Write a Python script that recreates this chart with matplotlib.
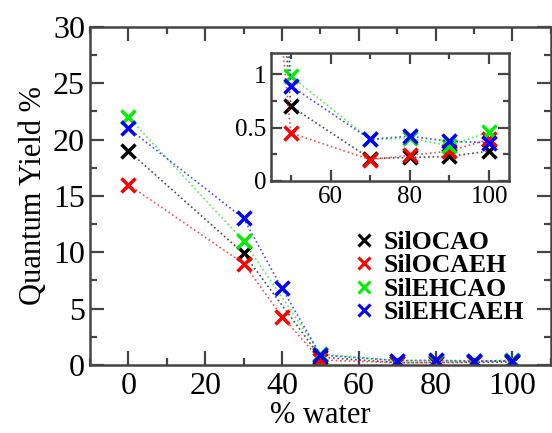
import matplotlib
matplotlib.use("Agg")
import matplotlib.pyplot as plt
import numpy as np
from matplotlib.ticker import MultipleLocator

plt.rcParams["font.family"] = ["Liberation Serif", "DejaVu Serif"]

# ── data ────────────────────────────────────────────────────────────────
water_full = [0, 30, 40, 50, 70, 80, 90, 100]
water_part = [0, 30, 50, 70, 80, 90, 100]   # no 40 % point

sil_ocao   = [19.0, 9.9, 0.70, 0.21, 0.22, 0.23, 0.28]
sil_ocaeh  = [16.0, 9.0, 4.3, 0.45, 0.20, 0.24, 0.28, 0.39]
sil_ehcao  = [22.0, 11.0, 0.98, 0.39, 0.40, 0.33, 0.46]
sil_ehcaeh = [21.0, 13.0, 6.8, 0.89, 0.39, 0.42, 0.37, 0.36]

series = [
    ("SilOCAO",   water_part, sil_ocao,   "black"),
    ("SilOCAEH",  water_full, sil_ocaeh,  "red"),
    ("SilEHCAO",  water_part, sil_ehcao,  "#00ee00"),
    ("SilEHCAEH", water_full, sil_ehcaeh, "blue"),
]

SPINE = "#444444"

def style_axes(ax, fs):
    for s in ax.spines.values():
        s.set_color(SPINE)
        s.set_linewidth(1.8)
    ax.tick_params(which="both", direction="in", top=True, right=True,
                   colors=SPINE, labelcolor="black", labelsize=fs, width=1.6)
    ax.tick_params(which="major", length=10)
    ax.tick_params(which="minor", length=5)

fig = plt.figure(figsize=(5.52, 4.33), dpi=100)
ax = fig.add_axes([0.163, 0.157, 0.835, 0.781])

for name, xs, ys, c in series:
    ax.plot(xs, ys, linestyle=":", color=c, lw=1.2, alpha=0.7)
    ax.plot(xs, ys, linestyle="none", marker="x", color=c, ms=10, mew=2.5,
            label=name)

ax.set_xlim(-10, 110)
ax.set_ylim(0, 30)
ax.xaxis.set_major_locator(MultipleLocator(20))
ax.xaxis.set_minor_locator(MultipleLocator(10))
ax.yaxis.set_major_locator(MultipleLocator(5))
ax.yaxis.set_minor_locator(MultipleLocator(2.5))
style_axes(ax, 23)
ax.tick_params(axis="x", pad=5)
ax.set_xlabel("% water", fontsize=22, labelpad=0)
ax.set_ylabel("Quantum Yield %", fontsize=22, labelpad=4)

leg = ax.legend(loc="lower right", bbox_to_anchor=(0.975, 0.075), frameon=False,
                handlelength=0.5, handletextpad=0.5,
                labelspacing=0.02, borderaxespad=0.2,
                prop={"weight": "bold", "size": 18.5})
for h in leg.legend_handles:
    h.set_markersize(8)
    h.set_markeredgewidth(2.2)

# ── inset ───────────────────────────────────────────────────────────────
axi = fig.add_axes([0.491, 0.582, 0.431, 0.296])
for name, xs, ys, c in series:
    axi.plot(xs, ys, linestyle=":", color=c, lw=1.2, alpha=0.7)
    axi.plot(xs, ys, linestyle="none", marker="x", color=c, ms=10, mew=2.5)
axi.set_xlim(45, 105)
axi.set_ylim(0, 1.2)
axi.xaxis.set_major_locator(MultipleLocator(20))
axi.xaxis.set_minor_locator(MultipleLocator(10))
axi.set_yticks([0, 0.5, 1])
axi.set_yticklabels(["0", "0.5", "1"])
axi.yaxis.set_minor_locator(MultipleLocator(0.25))
style_axes(axi, 18)
axi.tick_params(which="major", length=8)
axi.tick_params(which="minor", length=4)

fig.savefig("out.png", dpi=100, facecolor="white")
